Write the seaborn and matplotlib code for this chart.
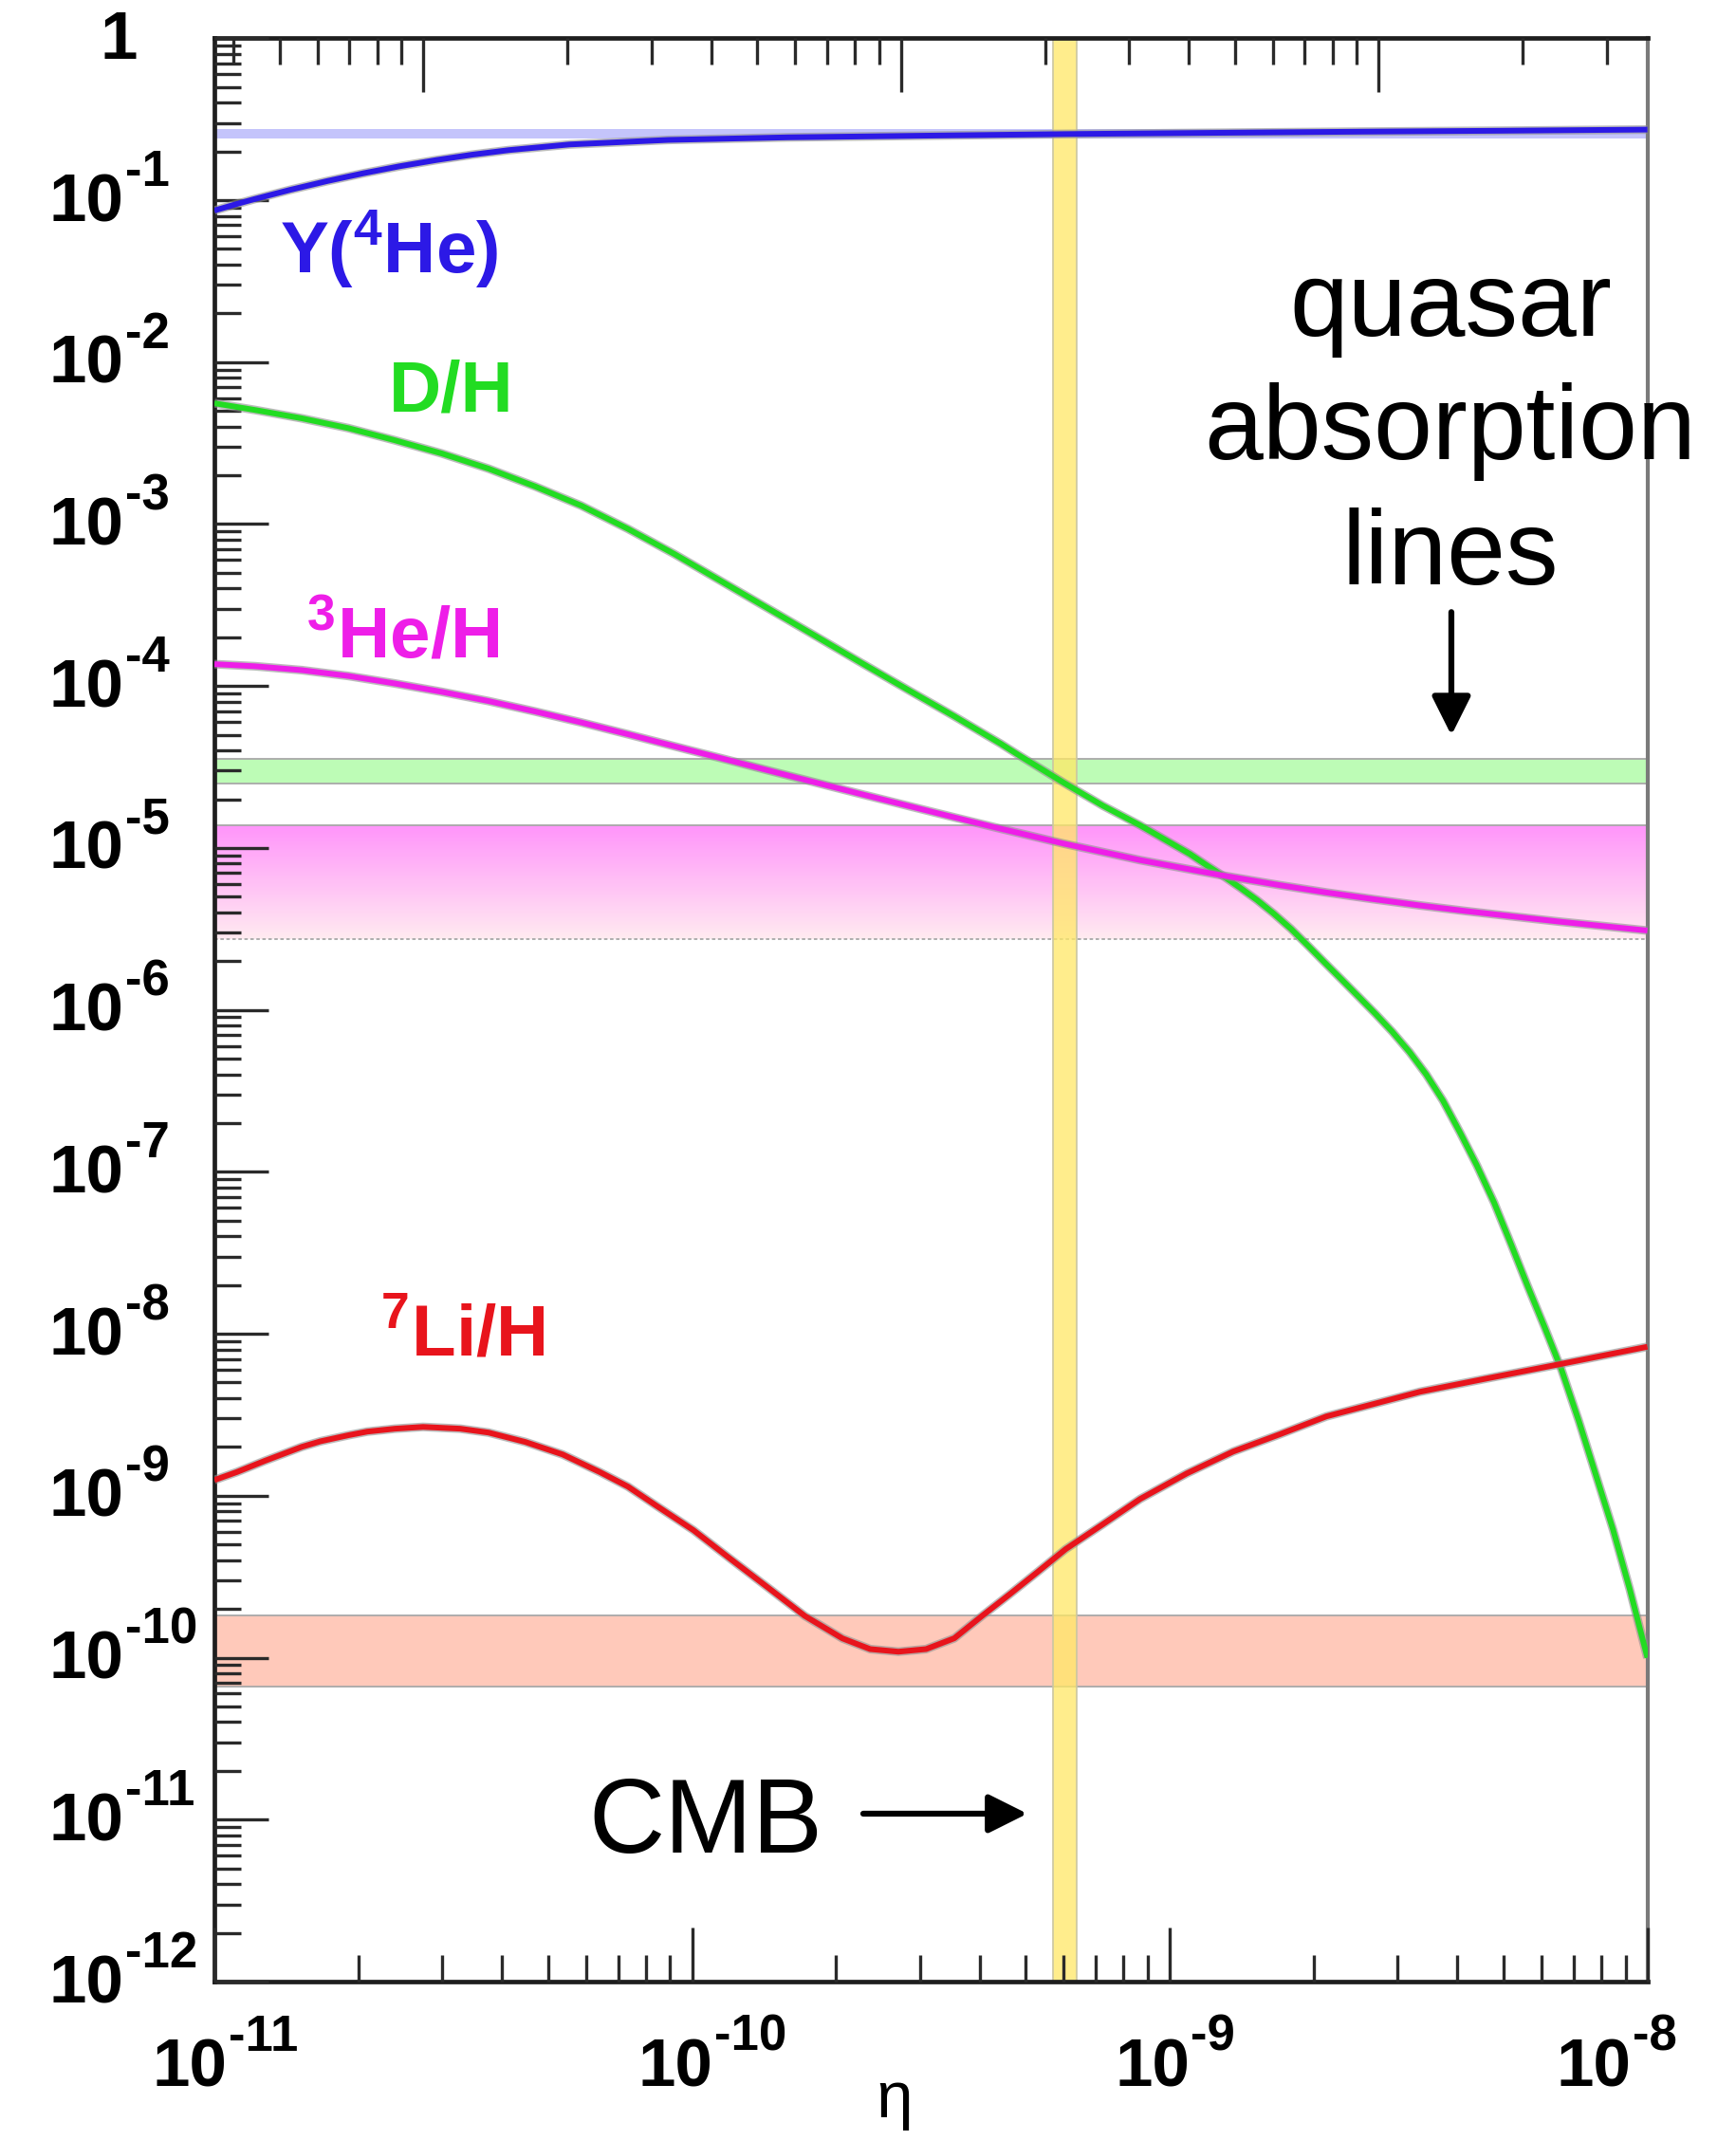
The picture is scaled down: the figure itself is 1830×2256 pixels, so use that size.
import numpy as np
import matplotlib
matplotlib.use("Agg")
import matplotlib.pyplot as plt
import matplotlib.patheffects as pe
import matplotlib.transforms as mtransforms
from matplotlib.ticker import LogLocator, NullFormatter
import seaborn as sns

# Big-bang nucleosynthesis abundances versus the baryon-to-photon ratio eta
eta_he4 = [1.000e-11, 1.112e-11, 1.211e-11, 1.442e-11, 1.722e-11, 2.051e-11, 2.438e-11,
           2.917e-11, 3.467e-11, 4.130e-11, 5.534e-11, 8.913e-11, 1.585e-10, 3.467e-10,
           6.026e-10, 1.259e-9, 2.512e-9, 5.012e-9, 1.000e-8]
y_he4 = [0.0863, 0.0946, 0.1014, 0.1159, 0.1312, 0.1466, 0.1618,
         0.1770, 0.1910, 0.2037, 0.2208, 0.2355, 0.2443, 0.2512,
         0.2559, 0.2606, 0.2649, 0.2685, 0.2729]

eta_dh = [1.000e-11, 1.219e-11, 1.524e-11, 1.910e-11, 2.382e-11, 2.992e-11, 3.750e-11,
          4.688e-11, 5.861e-11, 7.345e-11, 9.183e-11, 1.151e-10, 1.439e-10, 1.803e-10,
          2.249e-10, 2.825e-10, 3.540e-10, 4.426e-10, 4.831e-10, 5.998e-10, 7.244e-10,
          8.670e-10, 1.102e-9, 1.191e-9, 1.291e-9, 1.403e-9, 1.524e-9, 1.652e-9,
          1.795e-9, 1.950e-9, 2.113e-9, 2.286e-9, 2.483e-9, 2.698e-9, 2.924e-9,
          3.177e-9, 3.443e-9, 3.733e-9, 4.055e-9, 4.395e-9, 4.775e-9, 5.188e-9,
          5.623e-9, 6.095e-9, 6.607e-9, 7.178e-9, 7.798e-9, 8.472e-9, 9.183e-9, 1.000e-8]
y_dh = [5.572e-3, 5.058e-3, 4.498e-3, 3.908e-3, 3.296e-3, 2.729e-3, 2.198e-3,
        1.710e-3, 1.300e-3, 9.333e-4, 6.531e-4, 4.436e-4, 3.027e-4, 2.056e-4,
        1.403e-4, 9.506e-5, 6.501e-5, 4.406e-5, 3.741e-5, 2.529e-5, 1.824e-5,
        1.380e-5, 9.183e-6, 7.870e-6, 6.745e-6, 5.689e-6, 4.764e-6, 3.926e-6,
        3.162e-6, 2.483e-6, 1.954e-6, 1.549e-6, 1.211e-6, 9.441e-7, 7.328e-7,
        5.495e-7, 3.999e-7, 2.754e-7, 1.746e-7, 1.096e-7, 6.471e-8, 3.548e-8,
        1.950e-8, 1.096e-8, 6.026e-9, 2.924e-9, 1.349e-9, 6.194e-10, 2.655e-10, 1.000e-10]

eta_he3 = [1.000e-11, 1.219e-11, 1.524e-11, 1.910e-11, 2.382e-11, 2.992e-11, 3.750e-11,
           4.688e-11, 5.861e-11, 7.345e-11, 9.183e-11, 1.151e-10, 1.439e-10, 1.803e-10,
           2.249e-10, 2.825e-10, 3.540e-10, 4.426e-10, 5.998e-10, 8.670e-10, 1.268e-9,
           1.702e-9, 2.128e-9, 2.667e-9, 3.342e-9, 4.178e-9, 5.236e-9, 6.546e-9, 1.000e-8]
y_he3 = [1.365e-4, 1.324e-4, 1.253e-4, 1.153e-4, 1.038e-4, 9.204e-5, 8.072e-5,
         6.966e-5, 5.957e-5, 5.035e-5, 4.246e-5, 3.581e-5, 3.020e-5, 2.547e-5,
         2.158e-5, 1.824e-5, 1.545e-5, 1.315e-5, 1.064e-5, 8.414e-6, 6.823e-6,
         5.888e-6, 5.309e-6, 4.831e-6, 4.416e-6, 4.074e-6, 3.776e-6, 3.508e-6, 3.090e-6]

eta_li7 = [1.000e-11, 1.114e-11, 1.274e-11, 1.524e-11, 1.667e-11, 1.910e-11, 2.089e-11,
           2.388e-11, 2.735e-11, 3.273e-11, 3.750e-11, 4.477e-11, 5.358e-11, 6.412e-11,
           7.345e-11, 8.395e-11, 1.007e-10, 1.202e-10, 1.439e-10, 1.722e-10, 2.065e-10,
           2.360e-10, 2.704e-10, 3.090e-10, 3.540e-10, 4.046e-10, 4.634e-10, 5.297e-10,
           6.053e-10, 7.244e-10, 8.670e-10, 1.086e-9, 1.358e-9, 1.702e-9, 2.128e-9,
           2.667e-9, 3.342e-9, 4.571e-9, 6.546e-9, 1.000e-8]
y_li7 = [1.250e-9, 1.400e-9, 1.641e-9, 2.004e-9, 2.168e-9, 2.366e-9, 2.489e-9,
         2.594e-9, 2.661e-9, 2.594e-9, 2.455e-9, 2.148e-9, 1.799e-9, 1.400e-9,
         1.138e-9, 8.730e-10, 6.124e-10, 4.083e-10, 2.723e-10, 1.811e-10, 1.315e-10,
         1.130e-10, 1.089e-10, 1.130e-10, 1.318e-10, 1.811e-10, 2.477e-10, 3.396e-10,
         4.677e-10, 6.668e-10, 9.550e-10, 1.374e-9, 1.875e-9, 2.399e-9, 3.090e-9,
         3.681e-9, 4.385e-9, 5.272e-9, 6.486e-9, 8.318e-9]

# Observed abundance ranges and the CMB determination of eta
he4_band = (0.240, 0.275)
dh_band = (2.51e-5, 3.56e-5)
he3_band = (2.75e-6, 1.39e-5)
li7_band = (6.65e-11, 1.82e-10)
cmb_band = (5.69e-10, 6.40e-10)

x_decades = [-11, -10, -9, -8]
y_decades = list(range(0, -13, -1))
omega_per_eta = 3.65e7   # Omega_b h^2 per unit eta (unlabelled top scale)

BLUE, GREEN, MAGENTA, RED = "#2c19e6", "#22dc22", "#ee1ee8", "#e8141c"

sns.set_theme(style="white")
plt.rcParams["font.family"] = ["Liberation Sans", "DejaVu Sans"]
plt.rcParams["mathtext.fontset"] = "custom"
plt.rcParams["mathtext.rm"] = "Liberation Sans"
plt.rcParams["mathtext.bf"] = "Liberation Sans:bold"

W, H = 1830, 2256
L, R, T, B = 226, 1736.6, 40.3, 2089
fig = plt.figure(figsize=(W / 100, H / 100), dpi=100)
ax = fig.add_axes([L / W, (H - B) / H, (R - L) / W, (B - T) / H])
ax.set_xscale("log")
ax.set_yscale("log")

# horizontal observation bands
edge = "#a8a8a8"
ax.axhspan(*he4_band, facecolor="#c4c4fb", edgecolor="none", zorder=1)
ax.axhspan(*dh_band, facecolor="#bdfcb6", edgecolor=edge, lw=1.3, zorder=1)
ax.axhspan(*li7_band, facecolor="#ffc9ba", edgecolor=edge, lw=1.3, zorder=1)
# 3He band with a vertical colour fade
n_strips = 90
lo, hi = np.log10(he3_band[0]), np.log10(he3_band[1])
c_top = np.array([255, 148, 250]) / 255
c_bot = np.array([255, 234, 240]) / 255
for i in range(n_strips):
    f = (i + 0.5) / n_strips
    y0 = 10 ** (lo + (hi - lo) * i / n_strips)
    y1 = 10 ** (lo + (hi - lo) * (i + 1) / n_strips)
    ax.axhspan(y0, y1, facecolor=c_bot * (1 - f) + c_top * f, edgecolor="none", lw=0, zorder=1)
ax.axhline(he3_band[1], color=edge, lw=1.3, zorder=1.1)
ax.axhline(he3_band[0], color=edge, lw=1.3, ls=(0, (2, 1.5)), zorder=1.1)

# CMB vertical band
ax.axvspan(*cmb_band, facecolor="#ffe866", alpha=0.75, edgecolor="none", zorder=1.6)
for xv in cmb_band:
    ax.axvline(xv, color="#cbc6a2", lw=1.2, zorder=1.7)

# abundance curves
halo = [pe.Stroke(linewidth=6.6, foreground="#8f8f8f", alpha=0.6), pe.Normal()]
for eta, vals, color in [(eta_he4, y_he4, BLUE), (eta_dh, y_dh, GREEN),
                         (eta_he3, y_he3, MAGENTA), (eta_li7, y_li7, RED)]:
    sns.lineplot(x=eta, y=vals, ax=ax, color=color, lw=4.3, sort=False,
                 estimator=None, zorder=4)
    line = ax.lines[-1]
    line.set_path_effects(halo)
    line.set_solid_joinstyle("round")
    line.set_solid_capstyle("butt")

ax.set_xlim(1e-11, 1e-8)
ax.set_ylim(1e-12, 1)
ax.set_xlabel("")
ax.set_ylabel("")

# axes frame and ticks
ax.set_axisbelow(False)
for s in ["left", "bottom", "top"]:
    ax.spines[s].set_linewidth(3.4)
    ax.spines[s].set_color("#1e1e1e")
ax.spines["right"].set_linewidth(3.0)
ax.spines["right"].set_color("#7a7a7a")
ax.xaxis.set_major_locator(LogLocator(base=10, numticks=10))
ax.xaxis.set_minor_locator(LogLocator(base=10, subs=np.arange(2, 10), numticks=10))
ax.yaxis.set_major_locator(LogLocator(base=10, numticks=20))
ax.yaxis.set_minor_locator(LogLocator(base=10, subs=np.arange(2, 10), numticks=20))
ax.xaxis.set_minor_formatter(NullFormatter())
ax.yaxis.set_minor_formatter(NullFormatter())
ax.tick_params(which="both", direction="in", colors="#2a2a2a", width=2.4,
               top=False, right=False, left=True, bottom=True,
               labelbottom=False, labelleft=False)
ax.tick_params(which="major", length=41)
ax.tick_params(which="minor", length=20)

sec = ax.secondary_xaxis("top", functions=(lambda e: e * omega_per_eta,
                                           lambda o: o / omega_per_eta))
sec.xaxis.set_major_locator(LogLocator(base=10, numticks=10))
sec.xaxis.set_minor_locator(LogLocator(base=10, subs=np.arange(2, 10), numticks=10))
sec.tick_params(which="both", direction="in", colors="#2a2a2a", width=2.4,
                labeltop=False)
sec.tick_params(which="major", length=41)
sec.tick_params(which="minor", length=20)
sec.spines["top"].set_visible(False)
sec.set_zorder(5)

# tick labels: "10" with a raised exponent
base_font = dict(fontsize=51, fontweight="bold", color="black", va="baseline")
exp_font = dict(fontsize=38, fontweight="bold", color="black", va="baseline", ha="left")


def power_label(x, y, trans, dx, dy):
    ax.text(x, y, "10", ha="left",
            transform=mtransforms.offset_copy(trans, fig=fig, x=dx, y=dy, units="dots"),
            **base_font)
    return mtransforms.offset_copy(trans, fig=fig, x=dx + 80, y=dy + 37, units="dots")


trans_y = mtransforms.blended_transform_factory(ax.transAxes, ax.transData)
ylab_x = (52 - L) / (R - L)
for k in y_decades:
    if k == 0:
        ax.text((125 - L) / (R - L), 1.0, "1", ha="center",
                transform=mtransforms.offset_copy(trans_y, fig=fig, y=-22, units="dots"),
                **base_font)
        continue
    t_exp = power_label(ylab_x, 10.0 ** k, trans_y, 0, -22)
    ax.text(ylab_x, 10.0 ** k, "-%d" % -k, transform=t_exp, **exp_font)

trans_x = mtransforms.blended_transform_factory(ax.transData, ax.transAxes)
for k, dx in zip(x_decades, [-65, -57, -58, -96]):
    t_exp = power_label(10.0 ** k, 0, trans_x, dx, -110)
    ax.text(10.0 ** k, 0, "-%d" % -k, transform=t_exp, **exp_font)

ax.text((943 - L) / (R - L), (B - 2232) / (B - T), "η", transform=ax.transAxes,
        ha="center", va="baseline", fontsize=50, color="black")

# species labels
lab = dict(fontsize=55, fontweight="bold", va="baseline", transform=ax.transAxes)
ax.text(0.0457, 0.879, r"Y($^{\mathbf{4}}$He)", color=BLUE, **lab)
ax.text(0.1218, 0.808, "D/H", color=GREEN, **lab)
ax.text(0.0642, 0.6808, r"$^{\mathbf{3}}$He/H", color=MAGENTA, **lab)
ax.text(0.1158, 0.3221, r"$^{\mathbf{7}}$Li/H", color=RED, **lab)

# annotations
note = dict(fontsize=80, color="black", va="baseline", transform=ax.transAxes)
for word, fy in zip(["quasar", "absorption", "lines"], [0.8467, 0.7833, 0.7189]):
    ax.text(0.8626, fy, word, ha="center", **note)
ax.text(0.2608, 0.0664, "CMB", ha="left", **note)

arrow = dict(arrowstyle="-|>,head_length=1.0,head_width=0.5", mutation_scale=25,
             lw=4.5, color="black", shrinkA=0, shrinkB=0)
ax.annotate("", xy=(0.8632, 0.6413), xytext=(0.8632, 0.7047),
            xycoords="axes fraction", arrowprops=arrow)
ax.annotate("", xy=(0.5673, 0.0864), xytext=(0.4528, 0.0864),
            xycoords="axes fraction", arrowprops=arrow)

fig.savefig("out.png", dpi=100, facecolor="white")
